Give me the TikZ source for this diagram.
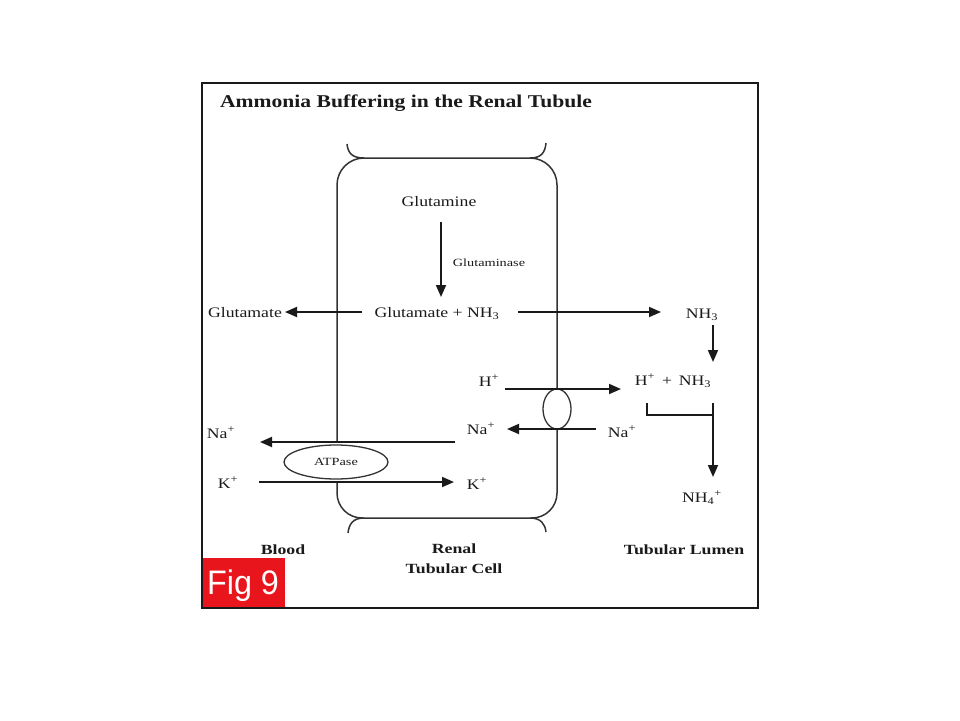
\documentclass[tikz,border=0pt]{standalone}
\usepackage{fontspec}
\setmainfont{Liberation Serif}
\newfontfamily\lblf[FakeStretch=1.22]{Liberation Serif}
\newfontfamily\smallf[FakeStretch=1.3]{Liberation Serif}
\newfontfamily\titlef[FakeStretch=1.2]{Liberation Serif}
\newfontfamily\botf[FakeStretch=1.27]{Liberation Serif}
\newfontfamily\figf[FakeStretch=0.95]{Liberation Sans}
\usetikzlibrary{arrows.meta,shapes.geometric}
\definecolor{figred}{HTML}{E8161C}
\definecolor{ink}{HTML}{1A1A1A}
\definecolor{wall}{HTML}{333333}
\begin{document}
\begin{tikzpicture}[x=1pt,y=-1pt,
  lbl/.style={font={\lblf\fontsize{14.5}{16}\selectfont}, text=ink, inner sep=0pt, anchor=base},
  small/.style={font={\smallf\fontsize{11}{12}\selectfont}, text=ink, inner sep=0pt, anchor=base},
  bot/.style={font={\botf\bfseries\fontsize{14}{20}\selectfont}, text=ink, inner sep=0pt},
  arr/.style={draw=ink, line width=1.8pt, -{Triangle[length=12pt,width=10pt]}},
  cellline/.style={draw=wall, line width=1.5pt},
  plain/.style={draw=ink, line width=1.8pt}]
\useasboundingbox (0,0) rectangle (960,720);
\fill[white] (0,0) rectangle (960,720);

% title
\node[font={\titlef\bfseries\fontsize{18}{20}\selectfont}, text=ink, inner sep=0pt, anchor=base] (title) at (406,107) {Ammonia Buffering in the Renal Tubule};

% cell membrane
\draw[cellline, rounded corners=27pt] (337,442) -- (337,158) -- (557,158) -- (557,389);
\draw[cellline, rounded corners=25pt] (337,482) -- (337,518) -- (557,518) -- (557,429);
\draw[cellline] (347,144) .. controls (348,153) and (352,158) .. (364,158);
\draw[cellline] (530,158) .. controls (541,158) and (545,153) .. (546,143);
\draw[cellline] (348,533) .. controls (349,524) and (353,518) .. (364,518);
\draw[cellline] (530,518) .. controls (541,518) and (545,524) .. (546,532);

% transporters
\node[draw=wall, line width=1.3pt, ellipse, minimum width=28pt, minimum height=40pt, inner sep=0pt] (tr) at (557,409) {};
\node[draw=wall, line width=1.3pt, ellipse, fill=white, minimum width=104pt, minimum height=34pt, inner sep=0pt,
      font={\smallf\fontsize{11}{12}\selectfont}, text=ink] (atp) at (336,462) {ATPase};

% labels
\node[lbl] (gln) at (439,206) {Glutamine};
\node[small] (gase) at (489,266) {Glutaminase};
\node[lbl] (glut) at (245,317) {Glutamate};
\node[lbl] (gnh) at (437,317) {Glutamate + NH\textsubscript{3}};
\node[lbl] (nh3) at (702,318) {NH\textsubscript{3}};
\node[lbl] (hp) at (489,386) {H\textsuperscript{+}};
\node[lbl] (hnh) at (673,385) {H\textsuperscript{+}\ \,+\ \,NH\textsubscript{3}};
\node[lbl] (nar) at (622,437) {Na\textsuperscript{+}};
\node[lbl] (nam) at (481,434) {Na\textsuperscript{+}};
\node[lbl] (nal) at (221,438) {Na\textsuperscript{+}};
\node[lbl] (kl) at (228,488) {K\textsuperscript{+}};
\node[lbl] (km) at (477,489) {K\textsuperscript{+}};
\node[lbl] (nh4) at (702,502) {NH\textsubscript{4}\textsuperscript{+}};
\node[bot, anchor=base] (blood) at (283,554) {Blood};
\node[bot, align=center] (renal) at (454,559) {Renal\\Tubular Cell};
\node[bot, anchor=base] (lumen) at (684,554) {Tubular Lumen};

% connector end points
\coordinate (a1s) at (441,222); \coordinate (a1e) at (441,297);
\coordinate (a2s) at (362,312); \coordinate (a2e) at (285,312);
\coordinate (a3s) at (518,312); \coordinate (a3e) at (661,312);
\coordinate (a4s) at (713,325); \coordinate (a4e) at (713,362);
\coordinate (a5s) at (505,389); \coordinate (a5e) at (621,389);
\coordinate (a6s) at (596,429); \coordinate (a6e) at (507,429);
\coordinate (a7s) at (455,442); \coordinate (a7e) at (260,442);
\coordinate (a8s) at (259,482); \coordinate (a8e) at (454,482);
\coordinate (b1) at (647,403); \coordinate (b2) at (647,415); \coordinate (b3) at (713,415);
\coordinate (b4) at (713,403); \coordinate (b5) at (713,477);

% arrows
\draw[arr] (a1s) -- (a1e);
\draw[arr] (a2s) -- (a2e);
\draw[arr] (a3s) -- (a3e);
\draw[arr] (a4s) -- (a4e);
\draw[arr] (a5s) -- (a5e);
\draw[arr] (a6s) -- (a6e);
\draw[arr] (a7s) -- (a7e);
\draw[arr] (a8s) -- (a8e);
\draw[plain] (b1) -- (b2) -- (b3);
\draw[arr] (b4) -- (b5);

% figure tag
\node[fill=figred, minimum width=83pt, minimum height=50pt, anchor=north west, inner sep=0pt] (figbox) at (202,557.5) {};
\node[font={\figf\fontsize{34}{34}\selectfont}, text=white, inner sep=0pt, anchor=base] (figtxt) at (243,594) {Fig 9};

% frame
\draw[draw=ink, line width=2.5pt] (202,83) rectangle (758,608);
\end{tikzpicture}
\end{document}
